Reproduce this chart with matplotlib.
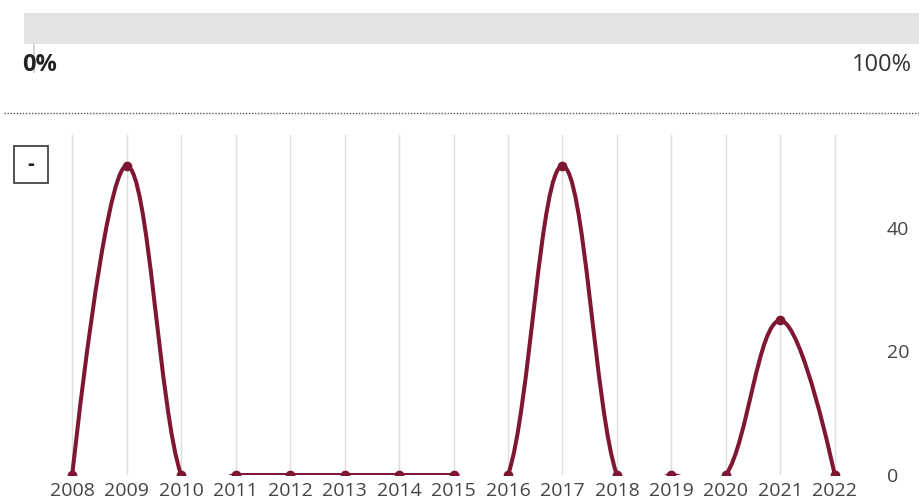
import matplotlib
matplotlib.use("Agg")
import matplotlib.pyplot as plt
from matplotlib.path import Path
from matplotlib.patches import PathPatch, Rectangle

plt.rcParams['font.family'] = ['Open Sans', 'DejaVu Sans']

# data
years = [2008, 2009, 2010, 2011, 2012, 2013, 2014, 2015,
         2016, 2017, 2018, 2019, 2020, 2021, 2022]
values = [0, 50, 0, 0, 0, 0, 0, 0, 0, 50, 0, 0, 0, 25, 0]
y_ticks = [0, 20, 40]
bar_labels = ["0%", "100%"]

line_color = "#7f1734"


# smooth curve through the points (bezier, like a js "spline" series)
def spline_path(xs, ys, smooth=1.5):
    denom = smooth + 1
    n = len(xs)
    lc = [None] * n
    rc = [None] * n
    for i in range(1, n - 1):
        x0, y0 = xs[i - 1], ys[i - 1]
        x, y = xs[i], ys[i]
        x1, y1 = xs[i + 1], ys[i + 1]
        lcx = (smooth * x + x0) / denom
        lcy = (smooth * y + y0) / denom
        rcx = (smooth * x + x1) / denom
        rcy = (smooth * y + y1) / denom
        corr = ((rcy - lcy) * (rcx - x)) / (rcx - lcx) + y - rcy
        lc[i] = (lcx, lcy + corr)
        rc[i] = (rcx, rcy + corr)
    verts = [(xs[0], ys[0])]
    codes = [Path.MOVETO]
    for i in range(1, n):
        c1 = rc[i - 1] if rc[i - 1] else (xs[i - 1], ys[i - 1])
        c2 = lc[i] if lc[i] else (xs[i], ys[i])
        verts += [c1, c2, (xs[i], ys[i])]
        codes += [Path.CURVE4] * 3
    return Path(verts, codes)


W, H = 919, 503
fig = plt.figure(figsize=(W / 100, H / 100), dpi=100)

# main chart
ax = fig.add_axes([45 / W, 1 - 475 / H, 817 / W, 340 / H])
ax.set_facecolor("none")
ax.set_xlim(2007.5, 2022.5)
ax.set_ylim(0, 55)

for s in ax.spines.values():
    s.set_visible(False)

ax.set_xticks(years)
ax.set_xticklabels([str(y) for y in years])
ax.set_yticks(y_ticks)
ax.yaxis.tick_right()
ax.tick_params(axis="x", length=0, pad=5, labelsize=14, labelcolor="#444444")
ax.tick_params(axis="y", length=0, pad=18, labelsize=14, labelcolor="#444444")
ax.grid(axis="x", color="#dddddd", lw=1)
ax.set_axisbelow(True)

curve = PathPatch(spline_path(years, values), facecolor="none", edgecolor=line_color,
                  lw=2.9, capstyle="round", joinstyle="round")
ax.add_patch(curve)
ax.plot(years, values, "o", ms=6, color=line_color)

# overlay in pixel coords for the top bar, dotted rule and button
over = fig.add_axes([0, 0, 1, 1], zorder=-1)
over.set_xlim(0, W)
over.set_ylim(H, 0)
over.axis("off")

over.add_patch(Rectangle((24, 13), W - 24, 31, facecolor="#e4e4e4", edgecolor="none"))
over.plot([34, 34], [44, 72], color="#cccccc", lw=1.2)
over.text(22, 65, bar_labels[0], fontsize=17, fontweight="bold", color="#222222",
          ha="left", va="center")
over.text(912, 65, bar_labels[1], fontsize=17, color="#333333",
          ha="right", va="center")
over.plot([4, W], [113, 113], color="#555555", lw=1, linestyle=(0, (1, 1.2)))

over.add_patch(Rectangle((14, 146), 34, 37, facecolor="white", edgecolor="#444444", lw=1.3))
over.text(31, 165, "-", fontsize=15, fontweight="bold", color="#222222",
          ha="center", va="center")

plt.savefig("out.png", dpi=100)
